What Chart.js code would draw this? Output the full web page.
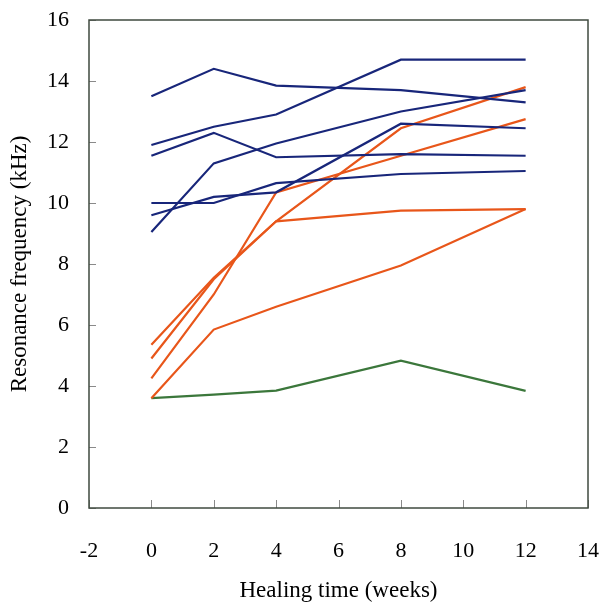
<!DOCTYPE html>
<html>
<head>
<meta charset="utf-8">
<script src="https://cdn.jsdelivr.net/npm/chart.js@4.4.0/dist/chart.umd.min.js"></script>
<style>
  body { margin: 0; background: #fff; }
  #wrap { width: 605px; height: 602px; }
</style>
</head>
<body>
<div id="wrap"><canvas id="chart" width="605" height="602"></canvas></div>
<script>
const weeks = [0, 2, 4, 8, 12];

// blue group
const blueA = [13.5, 14.4, 13.85, 13.7, 13.3];
const blueB = [11.9, 12.5, 12.9, 14.7, 14.7];
const blueC = [11.55, 12.3, 11.5, 11.6, 11.55];
const blueD = [9.05, 11.3, 11.95, 13.0, 13.7];
const blueE = [10.0, 10.0, 10.65, 10.95, 11.05];
const blueF = [9.6, 10.2, 10.35, 12.6, 12.45];

// orange group
const orangeA = [3.6, 5.85, 6.6, 7.95, 9.8];
const orangeB = [4.25, 7.0, 10.35, 11.55, 12.75];
const orangeC = [5.35, 7.55, 9.4, 9.75, 9.8];
const orangeD = [4.9, 7.5, 9.4, 12.45, 13.8];

// green
const greenA = [3.6, 3.72, 3.85, 4.83, 3.84];

const xTicks = [-2, 0, 2, 4, 6, 8, 10, 12, 14];
const yTicks = [0, 2, 4, 6, 8, 10, 12, 14, 16];

const BLUE = '#18267a';
const ORANGE = '#e8561a';
const GREEN = '#3b773b';
const FONT = 'Liberation Serif, Times New Roman, serif';

function series(vals, color) {
  return {
    data: weeks.map((w, i) => ({ x: w, y: vals[i] })),
    borderColor: color,
    borderWidth: 2.2,
    pointRadius: 0,
    fill: false,
    tension: 0
  };
}

// frame + inward tick marks
const framePlugin = {
  id: 'frame',
  afterDraw(chart) {
    const { ctx, chartArea: a, scales } = chart;
    ctx.save();
    ctx.strokeStyle = '#8a8a8a';
    ctx.lineWidth = 1;
    xTicks.forEach(v => {
      const px = Math.round(scales.x.getPixelForValue(v)) + 0.5;
      ctx.beginPath();
      ctx.moveTo(px, a.bottom);
      ctx.lineTo(px, a.bottom - 8);
      ctx.stroke();
    });
    yTicks.forEach(v => {
      const py = Math.round(scales.y.getPixelForValue(v)) + 0.5;
      ctx.beginPath();
      ctx.moveTo(a.left, py);
      ctx.lineTo(a.left + 7, py);
      ctx.stroke();
    });
    ctx.strokeStyle = '#3f4a3f';
    ctx.lineWidth = 1.5;
    ctx.strokeRect(a.left, a.top, a.right - a.left, a.bottom - a.top);
    ctx.restore();
  }
};

new Chart(document.getElementById('chart'), {
  type: 'line',
  data: {
    datasets: [
      series(blueA, BLUE), series(blueB, BLUE), series(blueC, BLUE),
      series(blueD, BLUE), series(blueE, BLUE), series(blueF, BLUE),
      series(orangeA, ORANGE), series(orangeB, ORANGE),
      series(orangeC, ORANGE), series(orangeD, ORANGE),
      series(greenA, GREEN)
    ]
  },
  options: {
    responsive: false,
    animation: false,
    layout: { padding: { left: 0, right: 17, top: 20, bottom: 0 } },
    plugins: { legend: { display: false }, tooltip: { enabled: false } },
    scales: {
      x: {
        type: 'linear',
        min: -2, max: 14,
        afterBuildTicks: s => { s.ticks = xTicks.map(v => ({ value: v })); },
        afterFit: s => { s.height = 94; s.paddingLeft = 0; s.paddingRight = 0; },
        grid: { display: false, drawTicks: false },
        border: { display: false },
        ticks: { color: '#000', padding: 30, font: { family: FONT, size: 22 } },
        title: {
          display: true, text: 'Healing time (weeks)', color: '#000',
          font: { family: FONT, size: 23, lineHeight: 1 },
          padding: { top: 0, bottom: 0 }
        }
      },
      y: {
        min: 0, max: 16,
        afterBuildTicks: s => { s.ticks = yTicks.map(v => ({ value: v })); },
        afterFit: s => { s.width = 89; s.paddingTop = 0; s.paddingBottom = 0; },
        grid: { display: false, drawTicks: false },
        border: { display: false },
        ticks: { color: '#000', padding: 20, font: { family: FONT, size: 22 } },
        title: {
          display: true, text: 'Resonance frequency (kHz)', color: '#000',
          font: { family: FONT, size: 23, lineHeight: 1 },
          padding: { top: 8, bottom: 0 }
        }
      }
    }
  },
  plugins: [framePlugin]
});
</script>
</body>
</html>
